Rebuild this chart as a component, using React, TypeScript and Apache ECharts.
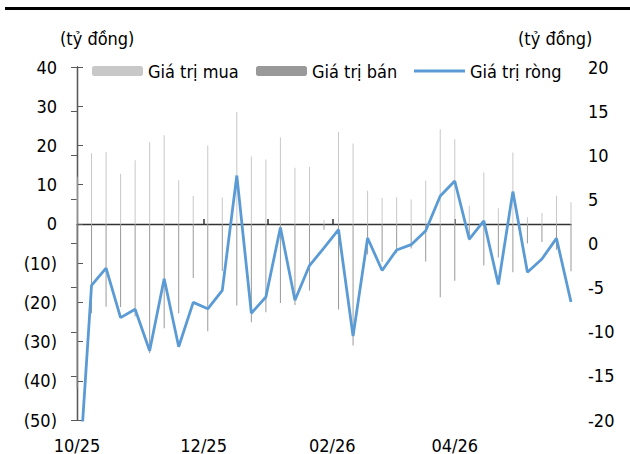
import React, { useEffect, useRef } from 'react';
import * as echarts from 'echarts';

// Days since 01/10/2025 for each weekly observation
const weekDays = [0, 7, 14, 21, 28, 35, 42, 49, 56, 63, 70, 77, 84, 91, 98, 105, 112, 119, 126, 133, 140, 147, 154, 161, 168, 175, 182, 189, 196, 203, 210, 217, 224, 231, 238];

const giaTriMua = [12, 18.0, 18.3, 12.8, 16.2, 20.8, 22.6, 11.1, 7.1, 20.0, 6.7, 28.5, 17.2, 16.4, 22.0, 14.3, 14.5, 1.0, 23.4, 20.5, 8.45, 6.6, 6.8, 6.2, 11.0, 24.1, 21.6, 4.65, 13.1, 4.0, 18.2, 1.7, 2.8, 7.2, 5.5];

const giaTriBan = [-42, -22.8, -21.1, -21.2, -23.6, -33.0, -26.6, -22.8, -13.8, -27.4, -12.0, -20.8, -25.1, -22.5, -20.2, -20.7, -17.0, -1.5, -21.8, -31.0, -7.8, -9.7, -7.5, -6.3, -9.6, -18.7, -14.5, -4.2, -10.6, -8.6, -12.3, -5.0, -4.6, -6.6, -12.1];

const giaTriRong = [-30, -4.75, -2.8, -8.4, -7.45, -12.15, -4.0, -11.7, -6.67, -7.4, -5.3, 7.7, -7.9, -6.06, 1.82, -6.44, -2.5, -0.5, 1.56, -10.5, 0.62, -3.06, -0.73, -0.13, 1.44, 5.39, 7.08, 0.5, 2.57, -4.64, 5.88, -3.25, -1.75, 0.58, -6.63];

// x-axis labels (every 2 months) and month tick marks
const labelDays = [0, 61, 123, 182];
const labelTexts = ['10/25', '12/25', '02/26', '04/26'];
const tickDays = [61, 92, 123, 182];

const seriesNames = ['Giá trị mua', 'Giá trị bán', 'Giá trị ròng'];
const unitLabel = '(tỷ đồng)';

const FONT = '"DejaVu Sans Condensed", "DejaVu Sans", sans-serif';
const FS = 18;
const AXIS_COLOR = '#595959';

export default function App() {
  const ref = useRef<HTMLDivElement>(null);

  useEffect(() => {
    if (!ref.current) return;
    const chart = echarts.init(ref.current, null, { renderer: 'svg' });

    const pairs = (vals: number[]) => weekDays.map((d, i) => [d, vals[i]]);

    const legendBase = {
      top: 62,
      itemWidth: 51,
      itemHeight: 10,
      textStyle: { fontFamily: FONT, fontSize: FS, color: '#000' },
      padding: 0,
    };

    chart.setOption({
      animation: false,
      backgroundColor: '#fff',
      textStyle: { fontFamily: FONT },
      grid: { left: 77, right: 59, top: 67, bottom: 32, containLabel: false },
      legend: [
        { ...legendBase, left: 92, data: [seriesNames[0]] },
        { ...legendBase, left: 256, data: [seriesNames[1]] },
        { ...legendBase, left: 414, data: [{ name: seriesNames[2], icon: 'rect' }], itemHeight: 3 },
      ],
      graphic: [
        { type: 'line', shape: { x1: 5, y1: 8.5, x2: 630, y2: 8.5 }, style: { stroke: '#000', lineWidth: 3 } },
        { type: 'text', x: 60, y: 38, style: { text: unitLabel, fontFamily: FONT, fontSize: FS, fill: '#000', verticalAlign: 'middle' } },
        { type: 'text', x: 518, y: 38, style: { text: unitLabel, fontFamily: FONT, fontSize: FS, fill: '#000', verticalAlign: 'middle' } },
      ],
      xAxis: [
        {
          type: 'value',
          min: 0,
          max: 238,
          axisLine: { show: true, onZero: true, onZeroAxisIndex: 0, lineStyle: { color: '#333', width: 1.3 } },
          axisTick: { show: true, inside: true, length: 5, customValues: tickDays, lineStyle: { color: '#333', width: 1.5 } },
          axisLabel: { show: false },
          splitLine: { show: false },
        },
        {
          type: 'value',
          position: 'bottom',
          min: 0,
          max: 238,
          axisLine: { show: false, onZero: false },
          axisTick: { show: false },
          splitLine: { show: false },
          axisLabel: {
            show: true,
            customValues: labelDays,
            margin: 16,
            fontFamily: FONT,
            fontSize: FS,
            color: '#000',
            showMinLabel: true,
            showMaxLabel: true,
            formatter: (v: number) => {
              const idx = labelDays.indexOf(Math.round(v));
              return idx >= 0 ? labelTexts[idx] : '';
            },
          },
        },
      ],
      yAxis: [
        {
          type: 'value',
          min: -50,
          max: 40,
          interval: 10,
          axisLine: { show: true, lineStyle: { color: AXIS_COLOR, width: 1.3 } },
          axisTick: { show: true, inside: true, length: 6, lineStyle: { color: AXIS_COLOR } },
          splitLine: { show: false },
          axisLabel: {
            margin: 20,
            fontFamily: FONT,
            fontSize: FS,
            color: '#000',
            formatter: (v: number) => (v < 0 ? `(${-v})` : `${v}`),
          },
        },
        {
          type: 'value',
          position: 'right',
          min: -20,
          max: 20,
          interval: 5,
          axisLine: { show: true, lineStyle: { color: AXIS_COLOR, width: 1.3 } },
          axisTick: { show: true, inside: true, length: 6, lineStyle: { color: AXIS_COLOR } },
          splitLine: { show: false },
          axisLabel: {
            margin: 17,
            fontFamily: FONT,
            fontSize: FS,
            color: '#000',
            formatter: (v: number) => `${v}`,
          },
        },
      ],
      series: [
        {
          name: seriesNames[0],
          type: 'bar',
          stack: 'tv',
          xAxisIndex: 0,
          yAxisIndex: 0,
          barWidth: 1,
          itemStyle: { color: '#c8c8c8' },
          data: pairs(giaTriMua),
        },
        {
          name: seriesNames[1],
          type: 'bar',
          stack: 'tv',
          xAxisIndex: 0,
          yAxisIndex: 0,
          barWidth: 1,
          itemStyle: { color: '#999999' },
          data: pairs(giaTriBan),
        },
        {
          name: seriesNames[2],
          type: 'line',
          xAxisIndex: 0,
          yAxisIndex: 1,
          symbol: 'none',
          clip: true,
          lineStyle: { color: '#5B9BD5', width: 2.8 },
          itemStyle: { color: '#5B9BD5' },
          data: pairs(giaTriRong),
        },
      ],
    });

    return () => chart.dispose();
  }, []);

  return (
    <div
      ref={ref}
      style={{ position: 'fixed', left: 0, top: 0, width: 630, height: 454, background: '#fff' }}
    />
  );
}
